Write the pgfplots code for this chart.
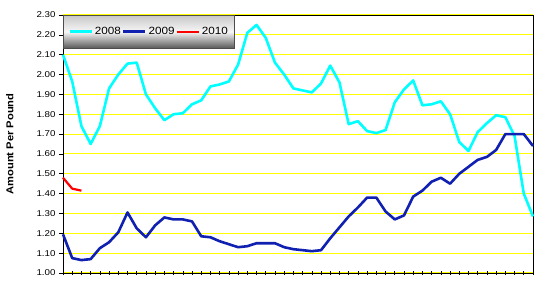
\documentclass[border=0pt]{standalone}
\usepackage{fontspec}
\setmainfont{Liberation Sans}
\newfontfamily\tickfont[FakeStretch=1.15]{Liberation Sans}
\newfontfamily\legfont[FakeStretch=1.12]{Liberation Sans}
\newfontfamily\labfont[FakeStretch=1.12]{Liberation Sans}
\usepackage{pgfplots}
\pgfplotsset{compat=1.18}
\usepackage{pgfplotstable}
\definecolor{c2008}{RGB}{0,255,255}
\definecolor{c2009}{RGB}{16,32,176}
\definecolor{c2010}{RGB}{255,0,0}
\definecolor{gridyellow}{RGB}{255,255,0}

\pgfplotstableread{
x y
0 2.10
1 1.965
2 1.74
3 1.65
4 1.74
5 1.93
6 2.00
7 2.055
8 2.06
9 1.90
10 1.83
11 1.77
12 1.80
13 1.805
14 1.85
15 1.87
16 1.94
17 1.95
18 1.965
19 2.05
20 2.21
21 2.25
22 2.185
23 2.06
24 2.00
25 1.93
26 1.92
27 1.91
28 1.955
29 2.045
30 1.96
31 1.75
32 1.765
33 1.715
34 1.705
35 1.72
36 1.86
37 1.925
38 1.97
39 1.845
40 1.85
41 1.865
42 1.80
43 1.66
44 1.615
45 1.71
46 1.755
47 1.795
48 1.785
49 1.69
50 1.40
51 1.285
}\dataA

\pgfplotstableread{
x y
0 1.195
1 1.075
2 1.065
3 1.07
4 1.125
5 1.155
6 1.205
7 1.305
8 1.225
9 1.18
10 1.24
11 1.28
12 1.27
13 1.27
14 1.26
15 1.185
16 1.18
17 1.16
18 1.145
19 1.13
20 1.135
21 1.15
22 1.15
23 1.15
24 1.13
25 1.12
26 1.115
27 1.11
28 1.115
29 1.175
30 1.23
31 1.285
32 1.33
33 1.38
34 1.38
35 1.31
36 1.27
37 1.29
38 1.385
39 1.415
40 1.46
41 1.48
42 1.45
43 1.50
44 1.535
45 1.57
46 1.585
47 1.62
48 1.70
49 1.70
50 1.70
51 1.64
}\dataB

\pgfplotstableread{
x y
0 1.48
1 1.425
2 1.415
}\dataC

\begin{document}
\begin{tikzpicture}
\begin{axis}[
  scale only axis,
  width=470bp, height=258bp,
  xmin=0, xmax=51, ymin=1, ymax=2.3,
  xtick={0,1,...,51},
  xticklabels={},
  ytick={1.0,1.1,1.2,1.3,1.4,1.5,1.6,1.7,1.8,1.9,2.0,2.1,2.2,2.3},
  yticklabel style={font=\tickfont\fontsize{8.5}{9}\selectfont, /pgf/number format/.cd, fixed, fixed zerofill, precision=2, assume math mode=true},
  xtick pos=bottom, ytick pos=left,
  xtick align=center, ytick align=outside,
  major tick length=4bp,
  tick style={black, line width=0.6bp},
  axis line style={black, line width=0.8bp},
  ymajorgrids,
  grid style={gridyellow, line width=1.1bp},
  ylabel={\labfont\bfseries\fontsize{10}{11}\selectfont Amount Per Pound},
  ylabel style={at={(axis description cs:-0.113,0.5)}, anchor=center},
  legend columns=3,
  legend image code/.code={\draw[#1] (0bp,0bp) -- (22bp,0bp);},
  legend style={at={(0,1)}, anchor=north west, draw=black!70, line width=0.6bp,
    top color=black!22, bottom color=black!65, middle color=black!3,
    inner xsep=5bp, inner ysep=11bp,
    font=\legfont\fontsize{10.5}{11}\selectfont,
    nodes={inner xsep=1bp, inner ysep=1bp},
    /tikz/every even column/.append style={column sep=0bp},
    /tikz/every odd column/.append style={column sep=1bp}},
  clip=false,
]
\addplot[c2008, line width=2.6bp, line join=round] table[x=x,y=y]{\dataA};
\addlegendentry{2008}
\addplot[c2009, line width=2.6bp, line join=round] table[x=x,y=y]{\dataB};
\addlegendentry{2009}
\addplot[c2010, line width=2.2bp, line join=round] table[x=x,y=y]{\dataC};
\addlegendentry{2010}
\end{axis}
\pgfresetboundingbox
\useasboundingbox (-63bp,-9bp) rectangle (473bp,273bp);
\end{tikzpicture}
\end{document}
